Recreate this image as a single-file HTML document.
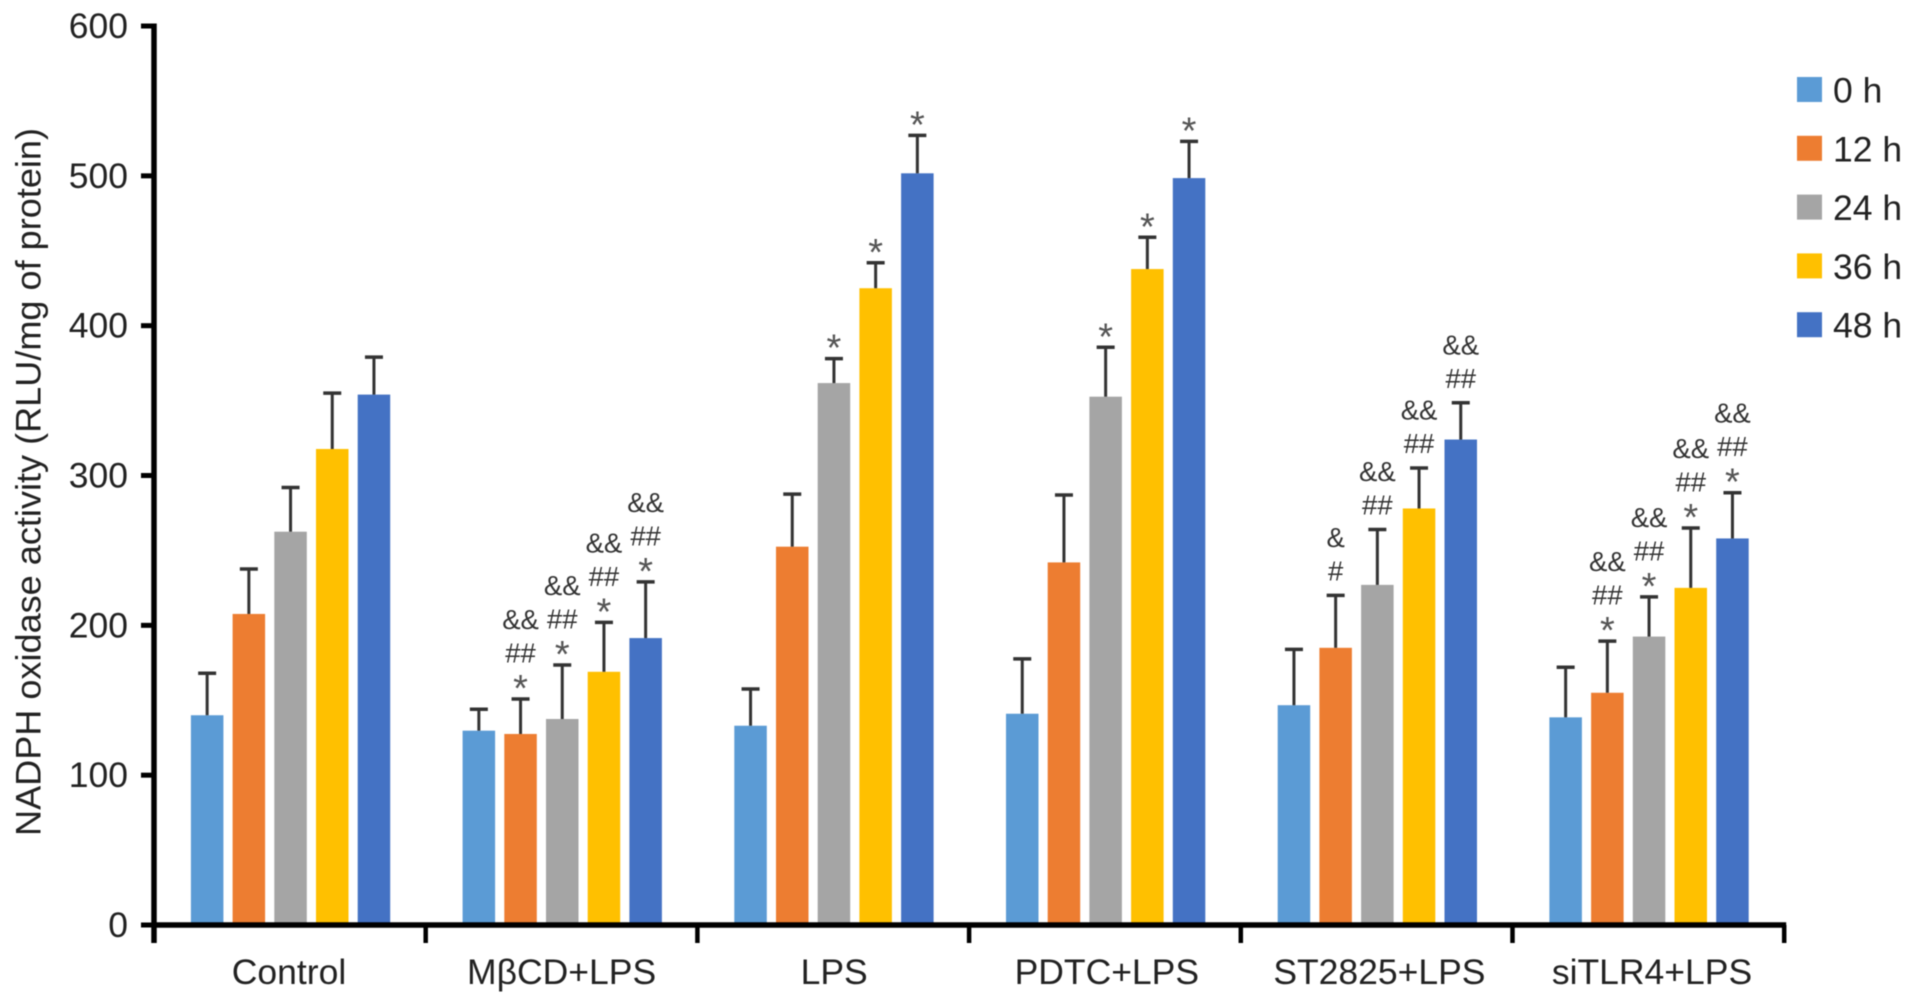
<!DOCTYPE html>
<html lang="en">
<head>
<meta charset="utf-8">
<title>NADPH oxidase activity</title>
<style>
html,body{margin:0;padding:0;background:#fff;width:1913px;height:1006px;overflow:hidden}
svg{display:block;filter:blur(0.6px)}
text{font-family:"Liberation Sans",Arial,sans-serif;fill:#222}
</style>
</head>
<body>
<svg id="chart" xmlns="http://www.w3.org/2000/svg" width="1913" height="1006" viewBox="0 0 1913 1006">
  <rect x="0" y="0" width="1913" height="1006" fill="#fff"/>
  <g id="bars"></g>
  <g id="errors"></g>
  <g id="marks"></g>
  <g id="axes"></g>
  <g id="legend"></g>
  <text transform="translate(40.5 482) rotate(-90)" text-anchor="middle" font-size="35" textLength="708" lengthAdjust="spacingAndGlyphs">NADPH oxidase activity (RLU/mg of protein)</text>
</svg>
<script>
const categories = ['Control', 'MβCD+LPS', 'LPS', 'PDTC+LPS', 'ST2825+LPS', 'siTLR4+LPS'];
const seriesLabels = ['0 h', '12 h', '24 h', '36 h', '48 h'];
const seriesColors = ['#5b9bd5', '#ed7d31', '#a5a5a5', '#ffc000', '#4472c4'];
const yTicks = [0, 100, 200, 300, 400, 500, 600];

const mean0h  = [140, 129.7, 133, 141, 146.7, 138.6];
const mean12h = [207.6, 127.5, 252.5, 242, 185, 155];
const mean24h = [262.5, 137.5, 361.7, 352.6, 227, 192.5];
const mean36h = [317.7, 169, 425, 437.8, 278, 225];
const mean48h = [354, 191.5, 501.7, 498.5, 324, 258];

const err0h  = [28, 14.3, 24.5, 36.6, 37.3, 33.4];
const err12h = [30, 23.3, 35.1, 45, 35, 34.5];
const err24h = [29.5, 36, 16.3, 33, 37, 26.5];
const err36h = [37.3, 33, 17, 21.2, 27, 40];
const err48h = [25, 37.5, 25.3, 24.5, 24.6, 30.5];

const marks0h  = ['', '', '', '', '', ''];
const marks12h = ['', '* ## &&', '', '', '# &', '* ## &&'];
const marks24h = ['', '* ## &&', '*', '*', '## &&', '* ## &&'];
const marks36h = ['', '* ## &&', '*', '*', '## &&', '* ## &&'];
const marks48h = ['', '* ## &&', '*', '*', '## &&', '* ## &&'];

const means = [mean0h, mean12h, mean24h, mean36h, mean48h];
const errs = [err0h, err12h, err24h, err36h, err48h];
const marks = [marks0h, marks12h, marks24h, marks36h, marks48h];

const NS = 'http://www.w3.org/2000/svg';
const X0 = 154, GROUP_W = 271.7, Y0 = 925, Y_PER_UNIT = 1.4983;
const BAR_W = 32.5, BAR_STEP = 41.7;
const LABEL_X0 = 289, LABEL_STEP = 272.6;

function yScale(v) { return Y0 - v * Y_PER_UNIT; }
function groupEdge(i) { return X0 + i * GROUP_W; }
function barCenter(i, j) { return groupEdge(i) + GROUP_W / 2 + 0.7 + (j - 2) * BAR_STEP; }

function make(tag, attrs, parent, text) {
  const el = document.createElementNS(NS, tag);
  for (const k in attrs) el.setAttribute(k, attrs[k]);
  if (text !== undefined) el.textContent = text;
  parent.appendChild(el);
  return el;
}

const barsG = document.getElementById('bars');
const errorsG = document.getElementById('errors');
const marksG = document.getElementById('marks');
const axesG = document.getElementById('axes');
const legendG = document.getElementById('legend');

means.forEach(function (series, j) {
  series.forEach(function (v, i) {
    const cx = barCenter(i, j);
    const top = yScale(v);
    const bar = make('rect', { x: cx - BAR_W / 2, y: top, width: BAR_W, height: Y0 - top, fill: seriesColors[j] }, barsG);
    
    

    const capY = yScale(v + errs[j][i]);
    const stem = make('line', { x1: cx, x2: cx, y1: top, y2: capY, stroke: '#333', 'stroke-width': 3 }, errorsG);
    
    
    const cap = make('line', { x1: cx - 9, x2: cx + 9, y1: capY, y2: capY, stroke: '#333', 'stroke-width': 3.5 }, errorsG);
    
    

    const stack = marks[j][i] ? marks[j][i].split(' ') : [];
    let baseline = capY - 14.8;
    stack.forEach(function (m) {
      let t;
      if (m === '*') {
        t = make('text', { x: cx, y: capY - 18 + 20, 'font-size': 38, 'text-anchor': 'middle' }, marksG, m);
        t.style.fill = '#555';
        baseline = capY - 36.5;
      } else {
        t = make('text', { x: cx, y: baseline, 'font-size': 27.5, 'text-anchor': 'middle' }, marksG, m);
        t.style.fill = '#333';
        baseline -= 33.5;
      }
      
      
    });
  });
});

const yAxisLine = make('line', { x1: X0, x2: X0, y1: 23.5, y2: 943, stroke: '#000', 'stroke-width': 5.5 }, axesG);



const xAxisLine = make('line', { x1: X0, x2: groupEdge(categories.length) + 2, y1: Y0, y2: Y0, stroke: '#000', 'stroke-width': 5.5 }, axesG);



yTicks.forEach(function (t) {
  const y = yScale(t);
  const tick = make('line', { x1: 141, x2: X0, y1: y, y2: y, stroke: '#000', 'stroke-width': 5 }, axesG);
  
  
  const label = make('text', { x: 128, y: y + 12, 'font-size': 35.5, 'text-anchor': 'end' }, axesG, String(t));
  
  
});

for (let i = 1; i <= categories.length; i++) {
  const x = groupEdge(i);
  const tick = make('line', { x1: x, x2: x, y1: Y0, y2: 943, stroke: '#000', 'stroke-width': 4.5 }, axesG);
  
  
}

categories.forEach(function (c, i) {
  const label = make('text', { x: LABEL_X0 + i * LABEL_STEP, y: 984, 'font-size': 35.5, 'text-anchor': 'middle' }, axesG, c);
  
  
});

seriesLabels.forEach(function (s, j) {
  const top = 77 + j * 58.8;
  const swatch = make('rect', { x: 1797, y: top, width: 25, height: 25, fill: seriesColors[j] }, legendG);
  
  
  const label = make('text', { x: 1833, y: top + 25.5, 'font-size': 35.5 }, legendG, s);
  
  
});
</script>
</body>
</html>
